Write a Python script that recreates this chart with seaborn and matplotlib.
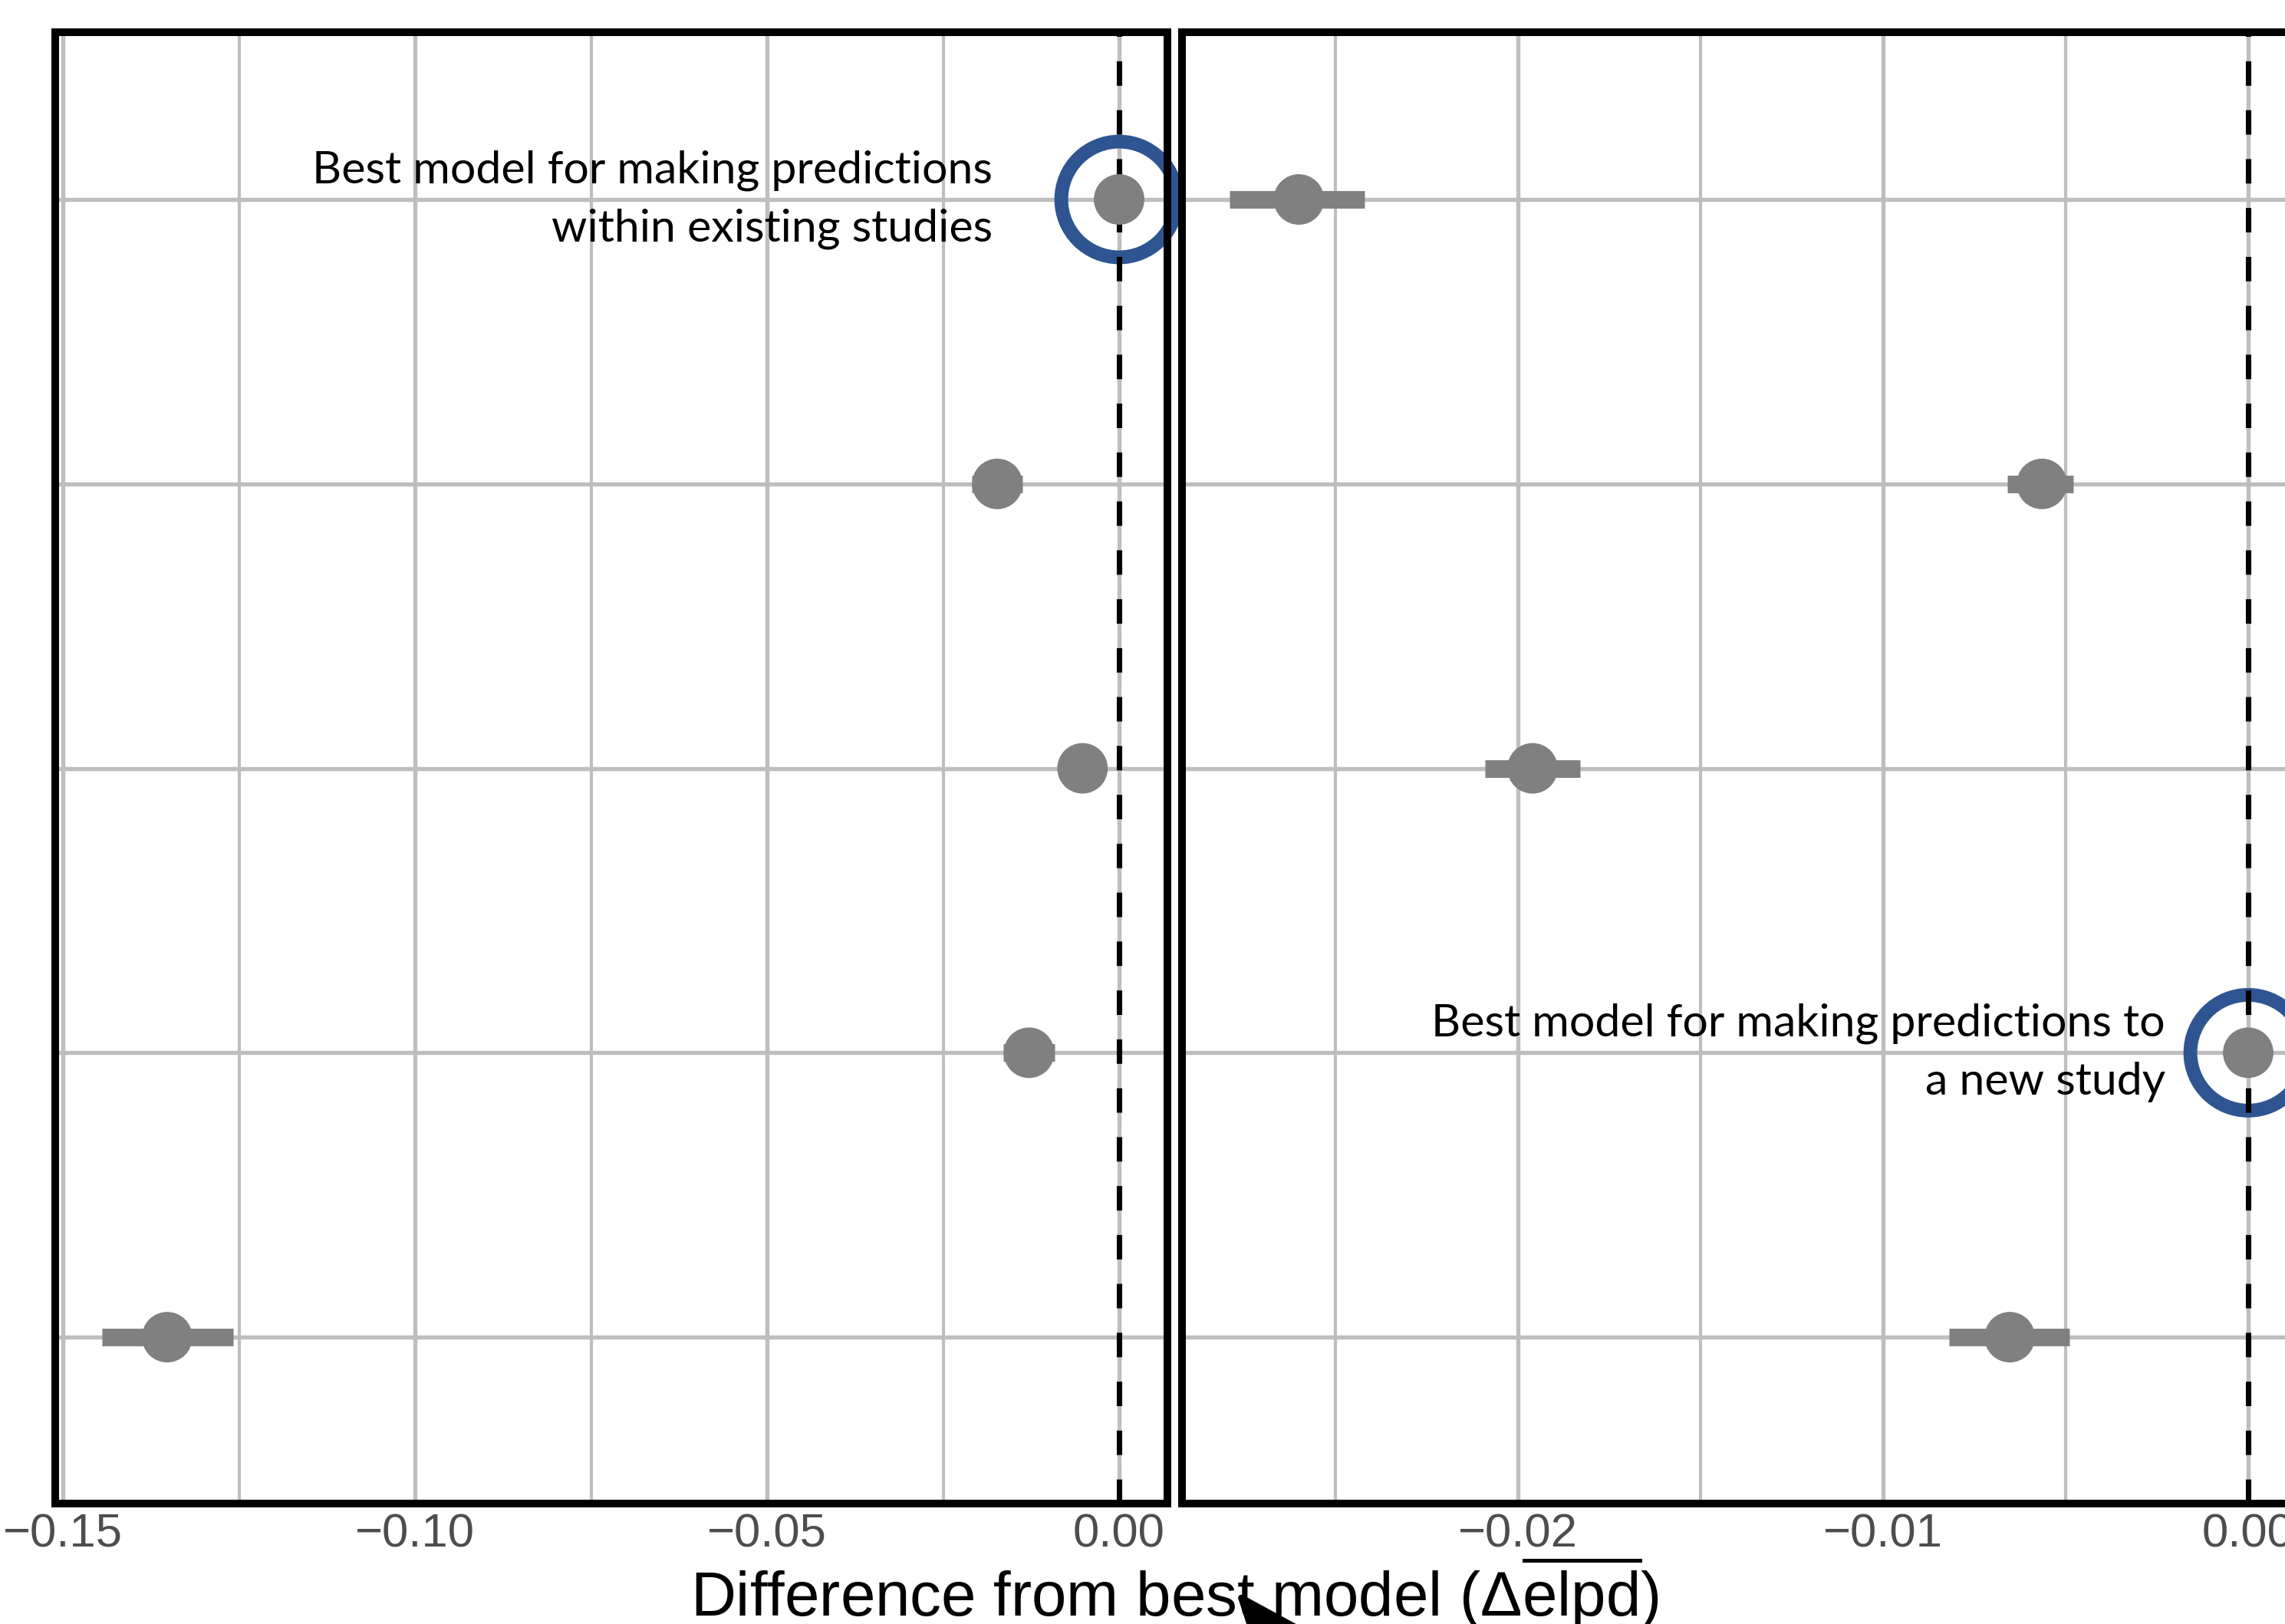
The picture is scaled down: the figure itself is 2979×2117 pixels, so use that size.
import matplotlib
matplotlib.use("Agg")
import matplotlib.pyplot as plt
import seaborn as sns
import pandas as pd
from matplotlib.ticker import MultipleLocator, FixedLocator, NullFormatter
from matplotlib.patches import FancyArrowPatch

# modelos (las etiquetas del eje y quedan fuera del recorte)
models = ["Model 1", "Model 2", "Model 3", "Model 4", "Model 5"]

# panel izquierdo: predicciones dentro de estudios existentes
within_est = [0.0, -0.0173, -0.0052, -0.0128, -0.1352]
within_lo = [-0.0013, -0.0209, -0.0072, -0.0165, -0.1445]
within_hi = [0.0013, -0.0137, -0.0032, -0.0091, -0.1258]

# panel derecho: predicciones a un estudio nuevo
new_est = [-0.0260, -0.00565, -0.0196, 0.0, -0.00653]
new_lo = [-0.0279, -0.0066, -0.0209, -0.0005, -0.0082]
new_hi = [-0.0242, -0.0048, -0.0183, 0.0005, -0.0049]

labels = ["Best model for making predictions\nwithin existing studies",
          "Best model for making predictions to\na new study"]

sns.set_style("white")
plt.rcParams["font.family"] = ["Liberation Sans", "DejaVu Sans"]
plt.rcParams["mathtext.fontset"] = "custom"
plt.rcParams["mathtext.rm"] = "Liberation Sans"

GRAY = "#808080"
GRID = "#BEBEBE"
BLUE = "#2E5591"

fig = plt.figure(figsize=(2979 / 300, 2117 / 300), dpi=300)
ax_l = fig.add_axes([0.02417, 0.07416, 0.48674, 0.906])
ax_r = fig.add_axes([0.51729, 0.07416, 0.48674, 0.906])

panels = [
    (ax_l, within_est, within_lo, within_hi, (-0.1511, 0.00686), 0.05, -0.018),
    (ax_r, new_est, new_lo, new_hi, (-0.0292, 0.00126), 0.01, -0.00227),
]

for i, (ax, est, lo, hi, xlim, step, txt_x) in enumerate(panels):
    df = pd.DataFrame({"model": models, "row": range(len(models)),
                       "est": est, "lo": lo, "hi": hi})

    ax.set_axisbelow(True)
    ax.axvline(0, color="black", lw=1.7, ls=(0, (4.5, 4.5)), zorder=2.5)
    ax.hlines(df["row"], df["lo"], df["hi"], color=GRAY, lw=5.5,
              capstyle="butt", zorder=3)
    sns.scatterplot(data=df, x="est", y="row", ax=ax, s=250, color=GRAY,
                    edgecolor="none", zorder=4, legend=False)

    # circulo del mejor modelo
    best = df.loc[df["est"].idxmax()]
    ax.scatter([best["est"]], [best["row"]], s=1311, facecolor="none",
               edgecolor=BLUE, linewidth=4.3, zorder=2.2, clip_on=False)
    ax.text(txt_x, best["row"], labels[i], ha="right", va="center",
            fontsize=14.2, family=["Lato", "DejaVu Sans"], linespacing=1.52,
            color="black", zorder=5)

    ax.set_xlim(*xlim)
    ax.set_ylim(4.585, -0.588)
    ax.xaxis.set_major_locator(MultipleLocator(step))
    ax.xaxis.set_minor_locator(MultipleLocator(step / 2))
    ax.yaxis.set_major_locator(FixedLocator(list(df["row"])))
    ax.yaxis.set_major_formatter(NullFormatter())
    ax.grid(axis="x", which="major", color=GRID, lw=1.3)
    ax.grid(axis="x", which="minor", color=GRID, lw=1.0)
    ax.grid(axis="y", which="major", color=GRID, lw=1.3)
    ax.tick_params(axis="both", which="both", length=0)
    ax.tick_params(axis="x", labelsize=14.8, labelcolor="#4D4D4D", pad=3)
    ax.set_xlabel("")
    ax.set_ylabel("")
    for sp in ax.spines.values():
        sp.set_visible(True)
        sp.set_color("black")
        sp.set_linewidth(2.4)
        sp.set_zorder(6)

fig.text(0.5139, 0.0047, r"Difference from best model ($\Delta\overline{\mathrm{elpd}}$)",
         ha="center", va="baseline", fontsize=19.6, color="black")

# punta de flecha que entra desde fuera del recorte
arrow = FancyArrowPatch(posA=(0.582, -0.0496), posB=(0.5391, 0.02315),
                        transform=fig.transFigure,
                        arrowstyle="-|>,head_length=1.0,head_width=0.4",
                        mutation_scale=20, color="black", lw=2, clip_on=False)
fig.add_artist(arrow)

fig.savefig("out.png", dpi=300)
